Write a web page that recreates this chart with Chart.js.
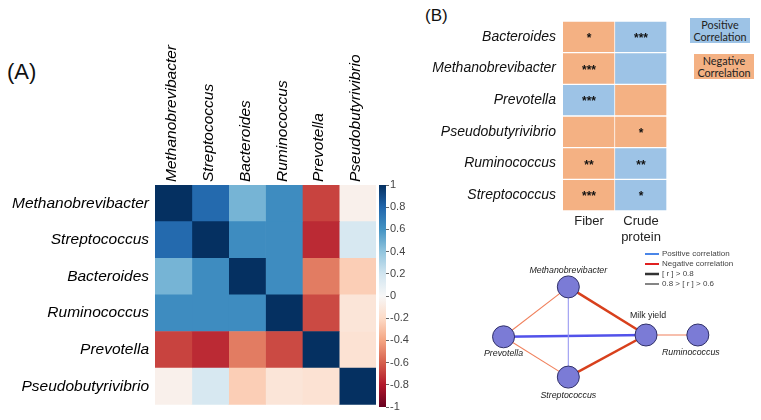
<!DOCTYPE html>
<html>
<head>
<meta charset="utf-8">
<script src="https://cdn.jsdelivr.net/npm/chart.js@4.4.0/dist/chart.umd.min.js"></script>
<style>
body { margin:0; background:#fff; width:761px; height:420px; position:relative; overflow:hidden; font-family:"Liberation Sans", Arial, sans-serif; }
canvas, .tag, .box { position:absolute; }
#heat { left:0; top:0; }
#cbar { left:370px; top:0; }
#tbl { left:420px; top:0; }
#net { left:440px; top:250px; }
.tag { color:#111; }
.box { width:60px; height:25px; font-family:Lato, "Open Sans", sans-serif; font-size:10.8px; line-height:12px; text-align:center; display:flex; align-items:center; justify-content:center; color:#222; }
</style>
</head>
<body>
<div class="tag" style="left:7px;top:60px;font-size:22px;line-height:24px;">(A)</div>
<div class="tag" style="left:425px;top:7px;font-size:17px;line-height:18px;">(B)</div>
<canvas id="heat" width="380" height="420"></canvas>
<canvas id="cbar" width="60" height="420"></canvas>
<canvas id="tbl" width="270" height="250"></canvas>
<canvas id="net" width="321" height="170"></canvas>
<div class="box" style="left:690px;top:18px;background:#9dc3e6;">Positive<br>Correlation</div>
<div class="box" style="left:694px;top:54px;background:#f4b183;">Negative<br>Correlation</div>
<script>
// (A) correlation matrix, rows/cols in the same order
const genera = ['Methanobrevibacter', 'Streptococcus', 'Bacteroides', 'Ruminococcus', 'Prevotella', 'Pseudobutyrivibrio'];
const corrMethano = [1, 0.78, 0.47, 0.63, -0.68, -0.05];
const corrStrep = [0.78, 1, 0.63, 0.63, -0.75, 0.17];
const corrBactero = [0.47, 0.63, 1, 0.63, -0.52, -0.25];
const corrRumino = [0.63, 0.63, 0.63, 1, -0.66, -0.13];
const corrPrevo = [-0.68, -0.75, -0.52, -0.66, 1, -0.15];
const corrPseudo = [-0.05, 0.17, -0.25, -0.13, -0.15, 1];
const cbTicks = [1, 0.8, 0.6, 0.4, 0.2, 0, -0.2, -0.4, -0.6, -0.8, -1];

// (B) significance table
const tblRows = ['Bacteroides', 'Methanobrevibacter', 'Prevotella', 'Pseudobutyrivibrio', 'Ruminococcus', 'Streptococcus'];
const tblCols = ['Fiber', ['Crude', 'protein']];
const fiberSign = [-1, -1, 1, -1, -1, -1];
const fiberStars = ['*', '***', '***', '', '**', '***'];
const proteinSign = [1, 1, -1, -1, 1, 1];
const proteinStars = ['***', '', '', '*', '**', '*'];

// (B) network
const nodeNames = ['Methanobrevibacter', 'Prevotella', 'Streptococcus', 'Milk yield', 'Ruminococcus'];
const nodeX = [1, 0, 1, 2.2, 3.0];
const nodeY = [0.8, -0.03, -0.7, 0, 0];
const edgeFrom = [0, 0, 0, 1, 1, 2, 3];
const edgeTo = [1, 2, 3, 3, 2, 3, 4];
const edgeR = [-0.7, 0.7, -0.85, 0.85, -0.7, -0.85, -0.65];

Chart.defaults.font.family = "'Liberation Sans', Arial, sans-serif";
Chart.defaults.color = '#000';
Chart.defaults.animation = false;
Chart.defaults.responsive = false;
Chart.defaults.devicePixelRatio = 1;
Chart.defaults.plugins.legend.display = false;
Chart.defaults.plugins.tooltip.enabled = false;

const rdbu = ['#67001f', '#b2182b', '#d6604d', '#f4a582', '#fddbc7', '#f7f7f7', '#d1e5f0', '#92c5de', '#4393c3', '#2166ac', '#053061'];

function hexRgb(h) {
    return [1, 3, 5].map(i => parseInt(h.substr(i, 2), 16));
}

function corrColor(v) {
    const t = (v + 1) / 2 * (rdbu.length - 1);
    const i = Math.min(Math.floor(t), rdbu.length - 2);
    const f = t - i;
    const a = hexRgb(rdbu[i]), b = hexRgb(rdbu[i + 1]);
    const c = a.map((x, k) => Math.round(x + (b[k] - x) * f));
    return 'rgb(' + c.join(',') + ')';
}

const corrRows = [corrMethano, corrStrep, corrBactero, corrRumino, corrPrevo, corrPseudo];

// heatmap as stacked horizontal bars, one dataset per column
new Chart(document.getElementById('heat'), {
    type: 'bar',
    data: {
        labels: genera,
        datasets: genera.map((g, j) => ({
            label: g,
            data: genera.map(() => 1),
            backgroundColor: corrRows.map(row => corrColor(row[j])),
            borderWidth: 0,
            barPercentage: 1,
            categoryPercentage: 1
        }))
    },
    options: {
        indexAxis: 'y',
        layout: { padding: { top: 0, left: 0, right: 4, bottom: 13 } },
        scales: {
            x: {
                type: 'linear', position: 'top', stacked: true, min: 0, max: 6,
                grid: { display: false, drawTicks: false }, border: { display: false },
                afterBuildTicks: s => { s.ticks = genera.map((g, i) => ({ value: i + 0.5 })); },
                ticks: {
                    autoSkip: false, minRotation: 90, maxRotation: 90, padding: 3, labelOffset: 17,
                    font: { size: 15.5, style: 'italic' },
                    callback: (v, i) => genera[i]
                },
                afterFit: s => { s.height = 185; }
            },
            y: {
                stacked: true,
                grid: { display: false, drawTicks: false }, border: { display: false },
                ticks: { padding: 6, font: { size: 15.5, style: 'italic' } },
                afterFit: s => { s.width = 155; }
            }
        }
    }
});

// colour bar
new Chart(document.getElementById('cbar'), {
    type: 'bar',
    data: {
        labels: ['r'],
        datasets: [{
            data: [[-1, 1]],
            barPercentage: 1,
            categoryPercentage: 1,
            borderWidth: 0,
            backgroundColor: c => {
                const area = c.chart.chartArea;
                if (!area) return '#fff';
                const g = c.chart.ctx.createLinearGradient(0, area.bottom, 0, area.top);
                rdbu.forEach((col, i) => g.addColorStop(i / (rdbu.length - 1), col));
                return g;
            }
        }]
    },
    options: {
        layout: { padding: { top: 185, left: 9, right: 0, bottom: 13 } },
        scales: {
            x: { display: false },
            y: {
                position: 'right', min: -1, max: 1,
                afterBuildTicks: s => { s.ticks = cbTicks.map(v => ({ value: v })); },
                grid: { drawOnChartArea: false, drawTicks: true, tickLength: 3, color: '#666' },
                border: { display: false },
                ticks: { padding: 1, color: '#444', font: { size: 11 }, callback: v => String(Math.round(v * 10) / 10) },
                afterFit: s => { s.width = 44; }
            }
        }
    }
});

// table of significance
const starPlugin = {
    id: 'stars',
    afterDatasetsDraw(chart) {
        const ctx = chart.ctx;
        const stars = [fiberStars, proteinStars];
        ctx.save();
        ctx.fillStyle = '#111';
        ctx.font = "bold 12px 'Liberation Sans', Arial";
        ctx.textAlign = 'center';
        ctx.textBaseline = 'middle';
        chart.data.datasets.forEach((ds, j) => {
            chart.getDatasetMeta(j).data.forEach((bar, i) => {
                ctx.fillText(stars[j][i], (bar.x + bar.base) / 2, bar.y + 2);
            });
        });
        ctx.restore();
    }
};

new Chart(document.getElementById('tbl'), {
    type: 'bar',
    data: {
        labels: tblRows,
        datasets: [fiberSign, proteinSign].map(signs => ({
            data: signs.map(() => 1),
            backgroundColor: signs.map(s => s > 0 ? '#9dc3e6' : '#f4b183'),
            borderColor: '#fff',
            borderWidth: 1,
            barPercentage: 1,
            categoryPercentage: 1
        }))
    },
    options: {
        indexAxis: 'y',
        layout: { padding: { top: 21, left: 0, right: 23, bottom: 0 } },
        scales: {
            x: {
                type: 'linear', stacked: true, min: 0, max: 2,
                grid: { display: false, drawTicks: false }, border: { display: false },
                afterBuildTicks: s => { s.ticks = tblCols.map((c, i) => ({ value: i + 0.5 })); },
                ticks: { autoSkip: false, maxRotation: 0, padding: 3, color: '#222', font: { size: 13, lineHeight: 1.2 }, callback: (v, i) => tblCols[i] },
                afterFit: s => { s.height = 39; }
            },
            y: {
                stacked: true,
                grid: { display: false, drawTicks: false }, border: { display: false },
                ticks: { padding: 7, color: '#111', font: { size: 14, style: 'italic' } },
                afterFit: s => { s.width = 143; }
            }
        }
    },
    plugins: [starPlugin]
});

// network
function edgeColor(r) {
    if (r > 0) return Math.abs(r) > 0.8 ? '#5252ea' : '#9a9af2';
    return Math.abs(r) > 0.8 ? '#d8401c' : '#f0805c';
}

const netLabels = {
    id: 'netLabels',
    afterDatasetsDraw(chart) {
        const ctx = chart.ctx;
        const xs = chart.scales.x, ys = chart.scales.y;
        const dy = [-16, 17, 18, -19, 18];
        const dx = [0, 0, 0, 2, -7];
        ctx.save();
        ctx.fillStyle = '#222';
        ctx.textAlign = 'center';
        ctx.textBaseline = 'middle';
        nodeNames.forEach((n, i) => {
            ctx.font = (n === 'Milk yield' ? '' : 'italic ') + "8.8px 'Liberation Sans', Arial";
            ctx.fillText(n, xs.getPixelForValue(nodeX[i]) + dx[i], ys.getPixelForValue(nodeY[i]) + dy[i]);
        });
        // legend
        const items = [
            ['Positive correlation', '#4a86e8', 2],
            ['Negative correlation', '#e02020', 2],
            ['[ r ] > 0.8', '#333', 2.5],
            ['0.8 > [ r ] > 0.6', '#333', 1.2]
        ];
        ctx.textAlign = 'left';
        ctx.font = "8px 'Liberation Sans', Arial";
        items.forEach((it, k) => {
            const y = 4 + k * 10;
            ctx.strokeStyle = it[1];
            ctx.lineWidth = it[2];
            ctx.beginPath();
            ctx.moveTo(205, y);
            ctx.lineTo(219, y);
            ctx.stroke();
            ctx.fillStyle = '#444';
            ctx.fillText(it[0], 222, y);
        });
        ctx.restore();
    }
};

const nodeData = nodeNames.map((n, i) => ({ x: nodeX[i], y: nodeY[i] }));

new Chart(document.getElementById('net'), {
    type: 'scatter',
    data: {
        datasets: [{
            data: nodeData,
            order: 0,
            pointRadius: 11,
            pointBackgroundColor: '#7b7bd6',
            pointBorderColor: '#303068',
            pointBorderWidth: 1
        }].concat(edgeR.map((r, k) => ({
            data: [nodeData[edgeFrom[k]], nodeData[edgeTo[k]]],
            order: 1,
            showLine: true,
            pointRadius: 0,
            borderColor: edgeColor(r),
            borderWidth: Math.abs(r) > 0.8 ? 2.5 : 1.1
        })))
    },
    options: {
        layout: { padding: 0 },
        scales: {
            x: { display: false, min: -0.796, max: 3.79 },
            y: { display: false, min: -1.214, max: 1.214 }
        }
    },
    plugins: [netLabels]
});
</script>
</body>
</html>
